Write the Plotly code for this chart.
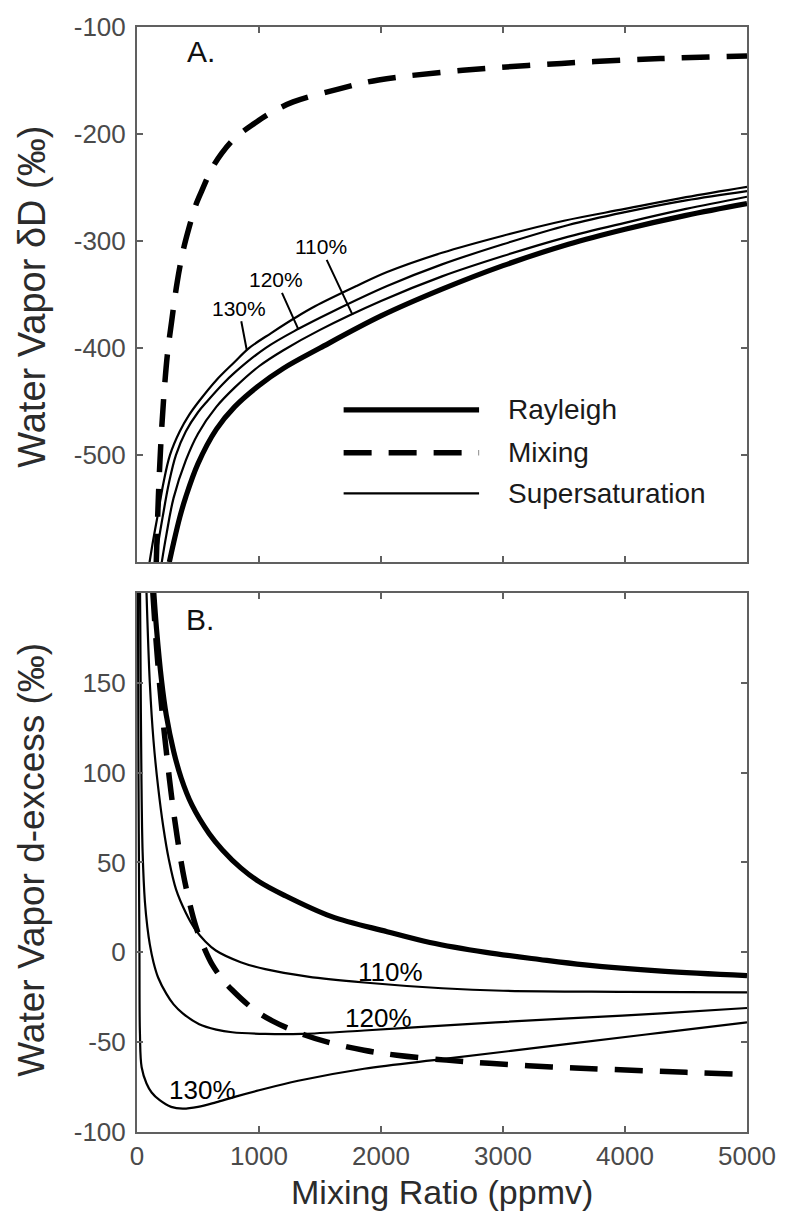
import plotly.graph_objects as go

# ---------------- data ----------------
# Panel A: water vapour dD (permil) vs mixing ratio (ppmv)
rayA_x = [265, 300, 351, 400, 500, 650, 800, 1000, 1200, 1500, 2000, 2500, 3000, 3536, 4000, 4500, 5000]
rayA_y = [-600, -582, -558, -539, -508, -476, -455, -435, -419, -400, -370, -345, -323, -303, -289, -276, -265]

mixA_x = [158, 175, 195, 220, 250, 284, 330, 380, 423, 480, 535, 610, 694, 800, 964, 1100, 1280, 1650, 1980, 2670, 3480, 4290, 5000]
mixA_y = [-600, -540, -490, -445, -405, -375, -338, -308, -289, -267, -252, -233, -218, -204, -190, -180, -170, -158, -149.5, -140.5, -134, -129.5, -127]

s110A_x = [203, 240, 300, 400, 500, 650, 800, 1000, 1200, 1500, 2000, 2500, 3000, 3500, 4000, 4500, 5000]
s110A_y = [-600, -575, -540, -505, -480, -455, -437, -417, -402, -383, -356, -333, -314, -297, -283, -270, -258.6]

s120A_x = [149, 180, 210, 260, 319, 400, 500, 581, 700, 800, 1053, 1324, 1600, 2050, 2500, 3000, 3536, 4000, 4500, 5000]
s120A_y = [-600, -578, -558, -527, -500, -478, -460, -449, -434, -423, -400, -382, -366, -342, -321.8, -303, -285, -273, -262, -253.3]

s130A_x = [103, 135, 167, 215, 270, 350, 430, 513, 650, 800, 918, 1100, 1300, 1459, 1800, 2050, 2500, 3000, 3500, 4000, 4500, 5000]
s130A_y = [-600, -578, -558, -527, -500, -478, -462, -449, -430, -413, -400, -386, -371.5, -361, -342, -329, -311, -295, -281, -270, -259, -249.3]

# Panel B: water vapour d-excess (permil) vs mixing ratio (ppmv)
rayB_x = [138, 160, 200, 240, 300, 362, 450, 592, 700, 850, 997, 1200, 1591, 2050, 2401, 2861, 3300, 3671, 4300, 5000]
rayB_y = [200, 180, 152, 132, 112, 97, 82, 66, 57, 47, 39.5, 32, 20, 11.5, 5.5, 0, -4, -7, -10.5, -13]

mixB_x = [130, 160, 200, 240, 281, 330, 390, 484, 560, 618, 700, 780, 943, 1105, 1375, 1591, 1861, 2131, 2536, 2887, 3400, 3887, 4500, 5000]
mixB_y = [200, 170, 138, 112, 88, 64, 40, 14, 1, -7, -15, -21, -31, -38, -46, -50.5, -54.5, -57.3, -60, -61.8, -63.8, -65.2, -66.8, -68]

s110B_x = [78, 105, 135, 173, 215, 260, 320, 400, 470, 560, 646, 850, 1051, 1400, 1861, 2500, 3000, 4000, 5000]
s110B_y = [200, 150, 118, 92, 70, 52, 35, 22, 13.5, 6, 1, -5.5, -9.4, -13.5, -16.8, -20, -21.4, -22, -22.3]

s120B_x = [25, 30, 36, 46, 65, 85, 105, 135, 173, 240, 300, 375, 510, 650, 780, 1051, 1350, 1861, 2400, 2942, 3536, 4300, 5000]
s120B_y = [200, 150, 100, 56, 28, 14, 4.4, -5.5, -14, -23, -29, -34, -40, -43, -44.5, -45.4, -45.4, -43.5, -41.2, -39, -36.8, -34, -31]

s130B_x = [8, 12, 16, 20, 24, 38, 78, 120, 186, 280, 375, 500, 646, 808, 1000, 1321, 1861, 2536, 3536, 4300, 5000]
s130B_y = [200, 100, 50, 0, -45, -64, -73, -78, -82.3, -86, -87, -86, -83.5, -80.3, -76.8, -71.5, -64.8, -59.2, -51, -44.7, -39]

x_ticks = [0, 1000, 2000, 3000, 4000, 5000]
yA_ticks = [-500, -400, -300, -200, -100]
yB_ticks = [-100, -50, 0, 50, 100, 150]

legend_names = ["Rayleigh", "Mixing", "Supersaturation"]
ss_labels = ["110%", "120%", "130%"]

# ---------------- styling ----------------
FONT = "Liberation Sans, Arial, Helvetica, sans-serif"
AX = "#606060"
TICKC = "#4a4a4a"
W, H = 788, 1216
ML, MR, MT, MB = 137, 34, 21, 84
PW, PH = W - ML - MR, H - MT - MB

def py2paper(py):
    return (H - MB - py) / PH

def px2paper(px):
    return (px - ML) / PW

thick = dict(color="black", width=5.2)
dashed = dict(color="black", width=5.5, dash="28px,17px")
thin = dict(color="black", width=2.2)

fig = go.Figure()

def add(x, y, line, xa, ya):
    fig.add_trace(go.Scatter(x=x, y=y, mode="lines", line=dict(shape="spline", smoothing=1.0, **line),
                             xaxis=xa, yaxis=ya, showlegend=False, hoverinfo="skip"))

add(s110A_x, s110A_y, thin, "x", "y")
add(s120A_x, s120A_y, thin, "x", "y")
add(s130A_x, s130A_y, thin, "x", "y")
add(rayA_x, rayA_y, thick, "x", "y")
add(mixA_x, mixA_y, dashed, "x", "y")

add(s110B_x, s110B_y, thin, "x2", "y2")
add(s120B_x, s120B_y, thin, "x2", "y2")
add(s130B_x, s130B_y, thin, "x2", "y2")
add(rayB_x, rayB_y, thick, "x2", "y2")
add(mixB_x, mixB_y, dashed, "x2", "y2")

topA = py2paper(559)
botB = py2paper(590)

tickfont = dict(family=FONT, size=26, color=TICKC)
common = dict(showline=True, mirror="ticks", linecolor=AX, linewidth=2, ticks="inside", ticklen=6,
              tickwidth=2, tickcolor=AX, showgrid=False, zeroline=False, tickfont=tickfont)

def lab(v):
    return [("-" + str(-t)) if t < 0 else str(t) for t in v]

fig.update_layout(
    width=W, height=H, margin=dict(l=ML, r=MR, t=MT, b=MB),
    plot_bgcolor="white", paper_bgcolor="white",
    xaxis=dict(domain=[0, 1], anchor="y", range=[0, 5000], tickvals=x_ticks, showticklabels=False, **common),
    yaxis=dict(domain=[topA, 1], anchor="x", range=[-600, -100], tickvals=yA_ticks, ticktext=lab(yA_ticks),
               ticklabelstandoff=4, **common),
    xaxis2=dict(domain=[0, 1], anchor="y2", range=[0, 5000], tickvals=x_ticks, ticktext=lab(x_ticks), **common),
    yaxis2=dict(domain=[0, botB], anchor="x2", range=[-100, 200], tickvals=yB_ticks, ticktext=lab(yB_ticks),
                ticklabelstandoff=4, **common),
)

ann = []
TITLEC = "#2b2b2b"
# axis titles
ann.append(dict(text="Water Vapor δD (‰)", xref="paper", yref="paper", x=px2paper(30), y=py2paper(292),
                textangle=-90, showarrow=False, font=dict(family=FONT, size=38, color=TITLEC),
                xanchor="center", yanchor="middle"))
ann.append(dict(text="Water Vapor d-excess (‰)", xref="paper", yref="paper", x=px2paper(30), y=py2paper(858),
                textangle=-90, showarrow=False, font=dict(family=FONT, size=37, color=TITLEC),
                xanchor="center", yanchor="middle"))
ann.append(dict(text="Mixing Ratio (ppmv)", xref="paper", yref="paper", x=px2paper(445), y=py2paper(1192),
                showarrow=False, font=dict(family=FONT, size=34, color=TITLEC),
                xanchor="center", yanchor="middle"))
# panel letters
ann.append(dict(text="A.", xref="x", yref="y", x=527, y=-123, showarrow=False,
                font=dict(family=FONT, size=30, color="#111"), xanchor="center", yanchor="middle"))
ann.append(dict(text="B.", xref="x2", yref="y2", x=519, y=185, showarrow=False,
                font=dict(family=FONT, size=30, color="#111"), xanchor="center", yanchor="middle"))
# panel A supersaturation labels with leader lines
for lab_, (xp, yp, ax, ay) in zip(ss_labels, [(1767, -369, -32, -68), (1321, -382, -22, -49), (900, -402, -8, -42)]):
    ann.append(dict(text=lab_, xref="x", yref="y", x=xp, y=yp, ax=ax, ay=ay, axref="pixel", ayref="pixel",
                    showarrow=True, arrowhead=0, arrowwidth=2, arrowcolor="black", standoff=0,
                    font=dict(family=FONT, size=21, color="black")))
# panel B supersaturation labels
for lab_, (xp, yp) in zip(ss_labels, [(2075, -10.9), (1977, -36.3), (535, -76.8)]):
    ann.append(dict(text=lab_, xref="x2", yref="y2", x=xp, y=yp, showarrow=False,
                    font=dict(family=FONT, size=26, color="black"), xanchor="center", yanchor="middle"))

# legend (drawn manually, long line samples)
shapes = []
leg_rows = [(406, thick), (449, dict(color="black", width=5.5, dash="28px,17px")), (490, thin)]
for name, (py, ln) in zip(legend_names, leg_rows):
    shapes.append(dict(type="line", xref="paper", yref="paper", x0=px2paper(346), x1=px2paper(483),
                       y0=py2paper(py), y1=py2paper(py), line=ln))
    ann.append(dict(text=name, xref="paper", yref="paper", x=px2paper(510), y=py2paper(py),
                    showarrow=False, xanchor="left", yanchor="middle",
                    font=dict(family=FONT, size=28, color="#1a1a1a")))

fig.update_layout(annotations=ann, shapes=shapes)
fig.write_html("out.html")
